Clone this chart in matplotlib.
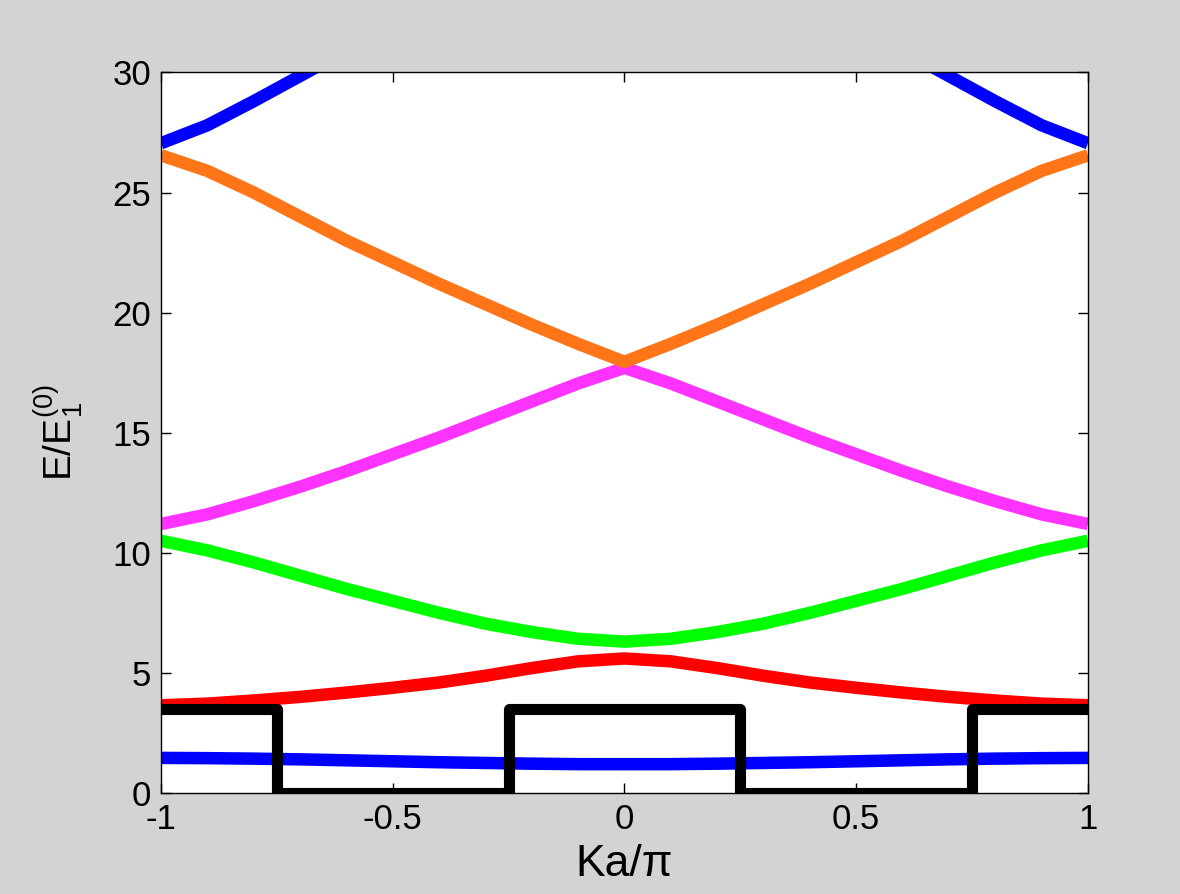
import numpy as np
import matplotlib
matplotlib.use("Agg")
import matplotlib.pyplot as plt

plt.rcParams['font.family'] = ['Liberation Sans', 'DejaVu Sans']
plt.rcParams['mathtext.fontset'] = 'custom'
plt.rcParams['mathtext.rm'] = 'Liberation Sans'
plt.rcParams['mathtext.it'] = 'Liberation Sans'

# Reduced wave vector Ka/pi
k = [-1.0, -0.9, -0.8, -0.7, -0.6, -0.5, -0.4, -0.3, -0.2, -0.1, 0.0,
     0.1, 0.2, 0.3, 0.4, 0.5, 0.6, 0.7, 0.8, 0.9, 1.0]

nan = float('nan')
band1 = [1.46, 1.45, 1.43, 1.40, 1.36, 1.32, 1.28, 1.25, 1.22, 1.20, 1.20,
         1.20, 1.22, 1.25, 1.28, 1.32, 1.36, 1.40, 1.43, 1.45, 1.46]
band2 = [3.65, 3.72, 3.85, 4.00, 4.18, 4.38, 4.60, 4.88, 5.20, 5.48, 5.60,
         5.48, 5.20, 4.88, 4.60, 4.38, 4.18, 4.00, 3.85, 3.72, 3.65]
band3 = [10.5, 10.1, 9.6, 9.05, 8.5, 8.0, 7.5, 7.05, 6.7, 6.42, 6.3,
         6.42, 6.7, 7.05, 7.5, 8.0, 8.5, 9.05, 9.6, 10.1, 10.5]
band4 = [11.2, 11.6, 12.15, 12.75, 13.4, 14.1, 14.8, 15.55, 16.3, 17.05, 17.7,
         17.05, 16.3, 15.55, 14.8, 14.1, 13.4, 12.75, 12.15, 11.6, 11.2]
band5 = [26.55, 25.9, 25.0, 24.0, 23.0, 22.1, 21.2, 20.35, 19.5, 18.7, 17.95,
         18.7, 19.5, 20.35, 21.2, 22.1, 23.0, 24.0, 25.0, 25.9, 26.55]
band6 = [27.05, 27.8, 28.8, 29.85, 30.9, nan, nan, nan, nan, nan, nan,
         nan, nan, nan, nan, nan, 30.9, 29.85, 28.8, 27.8, 27.05]

bands = [band1, band2, band3, band4, band5, band6]
band_colors = ['#0000ff', '#ff0000', '#00ff00', '#ff33ff', '#ff7518', '#0000ff']

# Periodic potential (square wave)
pot_k = [-1.0, -0.75, -0.75, -0.25, -0.25, 0.25, 0.25, 0.75, 0.75, 1.0]
pot_v = [3.5, 3.5, 0.0, 0.0, 3.5, 3.5, 0.0, 0.0, 3.5, 3.5]

xticks = [-1, -0.5, 0, 0.5, 1]
xticklabels = ['-1', '-0.5', '0', '0.5', '1']
yticks = [0, 5, 10, 15, 20, 25, 30]

fig = plt.figure(figsize=(11.8, 8.94), dpi=100, facecolor='#d3d3d3')
ax = fig.add_axes([0.1364, 0.113, 0.7856, 0.806])
ax.set_facecolor('white')

for vals, c in zip(bands, band_colors):
    ax.plot(k, vals, color=c, lw=9, solid_joinstyle='round',
            solid_capstyle='butt', zorder=2)

ax.plot(pot_k, pot_v, color='black', lw=8, solid_joinstyle='round',
        solid_capstyle='butt', zorder=3)

ax.set_xlim(-1, 1)
ax.set_ylim(0, 30)
ax.set_xticks(xticks)
ax.set_xticklabels(xticklabels)
ax.set_yticks(yticks)
ax.tick_params(direction='in', length=7, width=1, top=True, right=True,
               labelsize=25, pad=7)
for s in ax.spines.values():
    s.set_linewidth(1.0)
    s.set_zorder(4)

ax.set_xlabel('Ka/π', fontsize=32, labelpad=6)
ax.set_ylabel(r'E/E$_1^{(0)}$', fontsize=28, labelpad=20)

fig.savefig('out.png', dpi=100, facecolor=fig.get_facecolor())
